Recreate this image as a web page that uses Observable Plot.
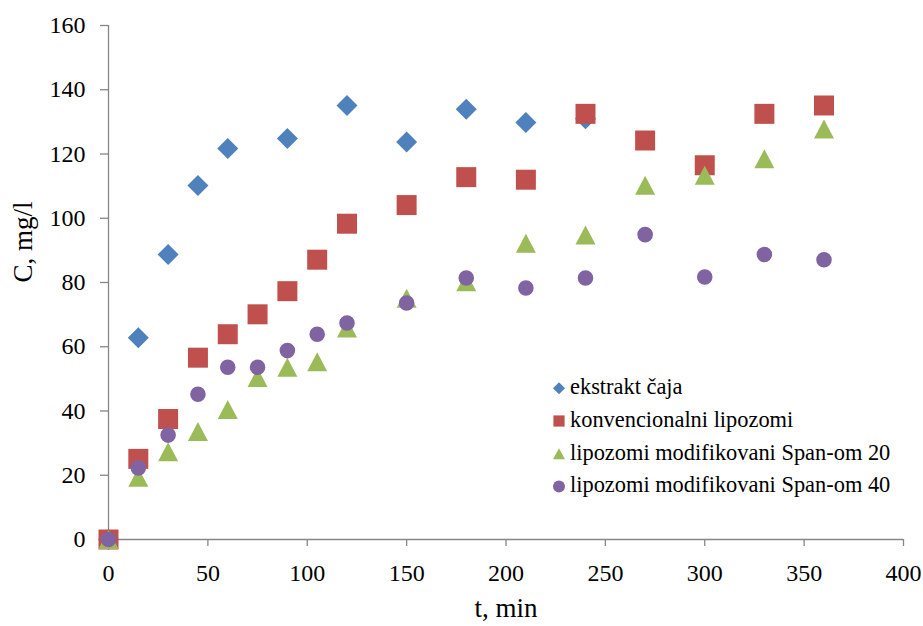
<!DOCTYPE html>
<html>
<head>
<meta charset="utf-8">
<script src="https://cdn.jsdelivr.net/npm/d3@7"></script>
<script src="https://cdn.jsdelivr.net/npm/@observablehq/plot@0.6"></script>
<style>
  html, body { margin: 0; padding: 0; background: #fff; }
  #wrap { position: relative; width: 923px; height: 626px; font-family: "Liberation Serif", "Times New Roman", serif; }
  #wrap svg text { font-family: "Liberation Serif", "Times New Roman", serif; }
  #legend { position: absolute; left: 0; top: 0; pointer-events: none; }
</style>
</head>
<body>
<div id="wrap"></div>
<script>
// ---- data ----
const seriesNames = ["ekstrakt čaja", "konvencionalni lipozomi", "lipozomi modifikovani Span-om 20", "lipozomi modifikovani Span-om 40"];
const seriesColors = ["#4F81BD", "#C0504D", "#9BBB59", "#8064A2"];

const timeExtract = [0, 15, 30, 45, 60, 90, 120, 150, 180, 210, 240];
const concExtract = [0, 62.8, 88.7, 110.2, 121.7, 124.8, 135.1, 123.7, 133.9, 129.8, 131.0];

const timeLipo = [0, 15, 30, 45, 60, 75, 90, 105, 120, 150, 180, 210, 240, 270, 300, 330, 360];
const concConventional = [0, 25.1, 37.5, 56.6, 63.9, 70.1, 77.3, 87.1, 98.3, 104.1, 112.8, 112.0, 132.5, 124.2, 116.5, 132.5, 135.1];
const concSpan20 = [0, 19.4, 27.3, 33.6, 40.5, 50.4, 53.6, 55.3, 65.8, 75.1, 80.2, 92.2, 94.8, 110.3, 113.4, 118.5, 127.8];
const concSpan40 = [0, 22.3, 32.5, 45.2, 53.6, 53.6, 58.8, 63.9, 67.4, 73.6, 81.4, 78.3, 81.4, 94.9, 81.7, 88.7, 87.1];

const xTicks = [0, 50, 100, 150, 200, 250, 300, 350, 400];
const yTicks = [0, 20, 40, 60, 80, 100, 120, 140, 160];
const xLabel = "t, min";
const yLabel = "C, mg/l";

// ---- tables ----
const toRows = (ts, cs) => ts.map((t, i) => ({t, c: cs[i]}));
const dExtract = toRows(timeExtract, concExtract);
const dConv = toRows(timeLipo, concConventional);
const dS20 = toRows(timeLipo, concSpan20);
const dS40 = toRows(timeLipo, concSpan40);

// ---- symbols ----
const mkDiamond = h => ({draw(ctx) { ctx.moveTo(0, -h); ctx.lineTo(h, 0); ctx.lineTo(0, h); ctx.lineTo(-h, 0); ctx.closePath(); }});
const mkSquare = h => ({draw(ctx) { ctx.moveTo(-h, -h); ctx.lineTo(h, -h); ctx.lineTo(h, h); ctx.lineTo(-h, h); ctx.closePath(); }});
const mkTriangle = (w, hh) => ({draw(ctx) { ctx.moveTo(0, -hh); ctx.lineTo(w, hh); ctx.lineTo(-w, hh); ctx.closePath(); }});
const mkCircle = r => ({draw(ctx) { ctx.moveTo(r, 0); ctx.arc(0, 0, r, 0, 2 * Math.PI); }});

const symbols = [mkDiamond(10.5), mkSquare(10), mkTriangle(10, 9.5), mkCircle(7.8)];
const datasets = [dExtract, dConv, dS20, dS40];

const axisGray = "#868686";
const W = 923, H = 626;

const plot = Plot.plot({
  width: W,
  height: H,
  marginTop: 25,
  marginRight: 20,
  marginBottom: 87,
  marginLeft: 108,
  style: {fontFamily: "Liberation Serif, Times New Roman, serif", color: "#000", background: "#fff"},
  x: {domain: [0, 400]},
  y: {domain: [0, 160]},
  marks: [
    Plot.ruleX([0], {stroke: axisGray, strokeWidth: 1.3}),
    Plot.ruleY([0], {stroke: axisGray, strokeWidth: 1.3}),
    Plot.axisX({ticks: xTicks, tickSize: 7, tickPadding: 17, stroke: axisGray, fill: "#000", fontSize: 24, label: null, strokeWidth: 1.3}),
    Plot.axisY({ticks: yTicks, tickSize: 8, tickPadding: 15, stroke: axisGray, fill: "#000", fontSize: 24, label: null, strokeWidth: 1.3}),
    Plot.text([xLabel], {frameAnchor: "bottom", dy: 77, fontSize: 27, fill: "#000"}),
    Plot.text([yLabel], {frameAnchor: "left", dx: -85, rotate: -90, fontSize: 27, fill: "#000"}),
    ...datasets.map((d, i) => Plot.dot(d, {x: "t", y: "c", fill: seriesColors[i], stroke: "none", symbol: symbols[i]}))
  ]
});

const wrap = document.getElementById("wrap");
wrap.appendChild(plot);

// ---- legend (overlay) ----
const legendSymbols = [mkDiamond(6), mkSquare(5.6), mkTriangle(6, 5.5), mkCircle(6)];
const lg = d3.select(wrap).append("svg")
  .attr("id", "legend")
  .attr("width", W).attr("height", H);
const rowY0 = 388.3, rowStep = 32.7, symX = 559, textX = 570;
seriesNames.forEach((name, i) => {
  const g = lg.append("g").attr("transform", `translate(0,${rowY0 + i * rowStep})`);
  g.append("path")
    .attr("transform", `translate(${symX},0)`)
    .attr("d", d3.symbol(legendSymbols[i])())
    .attr("fill", seriesColors[i]);
  g.append("text")
    .attr("x", textX).attr("y", 6)
    .attr("font-size", 22.4)
    .attr("fill", "#000")
    .text(name);
});
</script>
</body>
</html>
